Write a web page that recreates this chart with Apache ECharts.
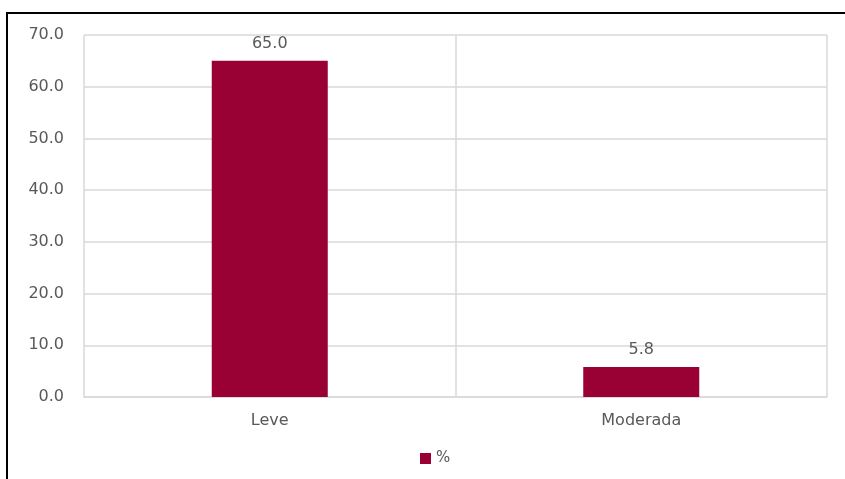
<!DOCTYPE html>
<html>
<head>
<meta charset="utf-8">
<script src="https://cdn.jsdelivr.net/npm/echarts@6/dist/echarts.min.js"></script>
<style>
  html, body { margin: 0; padding: 0; background: #ffffff; }
  #chart { width: 845px; height: 479px; }
</style>
</head>
<body>
<div id="chart"></div>
<script>
// Severity categories and their percentages
const categories = ['Leve', 'Moderada'];
const percentValues = [65.0, 5.8];
const seriesName = '%';
const yTicks = { min: 0, max: 70, interval: 10 };

const textColor = '#595959';
const gridColor = '#d9d9d9';
const barColor = '#990033';
const fontFamily = '"DejaVu Sans", Verdana, sans-serif';

const chart = echarts.init(document.getElementById('chart'), null, { renderer: 'canvas' });

chart.setOption({
  animation: false,
  backgroundColor: '#ffffff',
  textStyle: { fontFamily: fontFamily },
  grid: { left: 84, right: 18, top: 35, bottom: 82, containLabel: false },
  legend: {
    data: [seriesName],
    bottom: 8,
    left: 415,
    itemWidth: 11,
    itemHeight: 11,
    itemGap: 5,
    icon: 'rect',
    textStyle: { color: textColor, fontSize: 15, fontFamily: fontFamily, padding: [0, 0, 0, 0] }
  },
  xAxis: {
    type: 'category',
    data: categories,
    axisLine: { show: true, lineStyle: { color: gridColor, width: 1.5 } },
    axisTick: { show: false },
    splitLine: { show: true, lineStyle: { color: gridColor, width: 1.5 } },
    axisLabel: { color: textColor, fontSize: 16, margin: 16, fontFamily: fontFamily }
  },
  yAxis: {
    type: 'value',
    min: yTicks.min,
    max: yTicks.max,
    interval: yTicks.interval,
    axisLine: { show: false },
    axisTick: { show: false },
    splitLine: { show: true, lineStyle: { color: gridColor, width: 1.5 } },
    axisLabel: {
      color: textColor,
      fontSize: 16,
      margin: 20,
      fontFamily: fontFamily,
      formatter: function (v) { return v.toFixed(1); }
    }
  },
  series: [{
    name: seriesName,
    type: 'bar',
    data: percentValues,
    barWidth: 116,
    itemStyle: { color: barColor },
    label: {
      show: true,
      position: 'top',
      distance: 9,
      color: textColor,
      fontSize: 16,
      fontFamily: fontFamily,
      formatter: function (p) { return p.value.toFixed(1); }
    }
  }],
  graphic: [
    // Outer frame: top and left edges
    { type: 'line', shape: { x1: 6, y1: 13, x2: 845, y2: 13 }, style: { stroke: '#000000', lineWidth: 2 } },
    { type: 'line', shape: { x1: 7, y1: 12, x2: 7, y2: 479 }, style: { stroke: '#000000', lineWidth: 2 } }
  ]
});
</script>
</body>
</html>
